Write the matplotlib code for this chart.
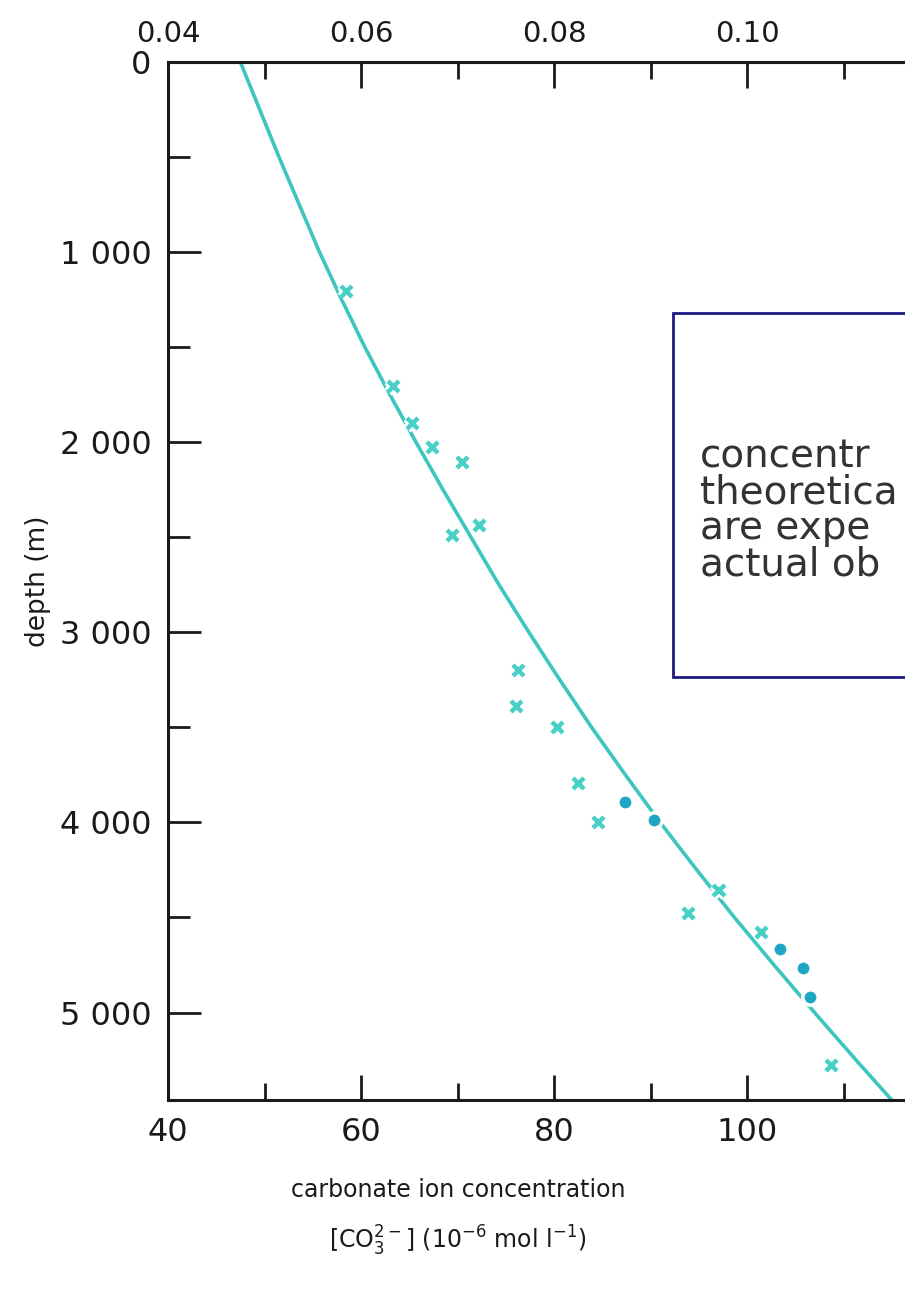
import numpy as np
import matplotlib
matplotlib.use('Agg')
import matplotlib.pyplot as plt
import matplotlib.patheffects as pe
from matplotlib.patches import Rectangle

matplotlib.rcParams.update({
    'font.family': ['DejaVu Sans'],
    'font.size': 20,
    'axes.linewidth': 2.2,
})

# theoretical curve (depth in m, [CO3 2-] in 1e-6 mol/l)
curve_depth = [0, 250, 500, 750, 1000, 1250, 1500, 1750, 2000, 2250, 2500, 2750,
               3000, 3250, 3500, 3750, 4000, 4250, 4500, 4750, 5000, 5250, 5460]
curve_conc = [47.5, 49.5, 51.5, 53.6, 55.7, 58.0, 60.4, 63.0, 65.7, 68.5, 71.4, 74.3,
              77.4, 80.6, 83.9, 87.4, 91.0, 94.8, 98.7, 102.8, 107.0, 111.3, 115.0]

# observations shown as crosses
cross_conc = [58.5, 63.4, 65.3, 67.4, 70.5, 72.3, 69.5, 76.3, 76.1, 80.4,
              82.5, 84.6, 97.1, 93.9, 101.5, 108.75]
cross_depth = [1205, 1705, 1900, 2026, 2105, 2437, 2490, 3200, 3389, 3500,
               3795, 4000, 4358, 4479, 4579, 5279]

# observations shown as dots
dot_conc = [87.4, 90.4, 103.4, 105.8, 106.5]
dot_depth = [3895, 3989, 4668, 4768, 4916]

depth_ticks = [0, 1000, 2000, 3000, 4000, 5000]
depth_labels = ['0', '1 000', '2 000', '3 000', '4 000', '5 000']
conc_ticks = [40, 60, 80, 100]
top_ticks = [0.04, 0.06, 0.08, 0.10]
top_labels = ['0.04', '0.06', '0.08', '0.10']

# visible part of the annotation (the rest is cut off by the picture edge)
box_lines = ['concentr', 'theoretica', 'are expe', 'actual ob']

line_color = '#3cc6bd'
cross_color = '#48cfc6'
dot_color = '#1fa6c3'
ink = '#1a1a1a'

fig = plt.figure(figsize=(9.05, 12.89), dpi=100)
W, H = 905, 1289
ax = fig.add_axes([168 / W, (H - 1100) / H, 772 / W, (1100 - 62) / H])

ax.plot(curve_conc, curve_depth, color=line_color, lw=2.6, zorder=2)
halo = [pe.withStroke(linewidth=7, foreground='white')]
ax.plot(cross_conc, cross_depth, ls='none', marker='x', ms=8, mew=3.2,
        color=cross_color, zorder=3, path_effects=halo)
ax.plot(dot_conc, dot_depth, ls='none', marker='o', ms=11,
        color=dot_color, mec='white', mew=2.5, zorder=4)

ax.set_xlim(40, 120)
ax.set_ylim(5460, 0)

ax.set_yticks(depth_ticks, depth_labels)
ax.set_yticks(np.arange(500, 5500, 1000), minor=True)
ax.set_xticks(conc_ticks, [str(v) for v in conc_ticks])
ax.set_xticks([50, 70, 90, 110], minor=True)

ax.tick_params(axis='y', which='major', direction='in', length=24, width=2,
               pad=12, labelsize=23, colors=ink)
ax.tick_params(axis='y', which='minor', direction='in', length=16, width=2, colors=ink)
ax.tick_params(axis='x', which='major', direction='in', length=18, width=2,
               pad=12, labelsize=23, colors=ink)
ax.tick_params(axis='x', which='minor', direction='in', length=12, width=2, colors=ink)

secax = ax.secondary_xaxis('top', functions=(lambda v: v / 1000, lambda v: v * 1000))
secax.set_xticks(top_ticks, top_labels)
secax.set_xticks([0.05, 0.07, 0.09, 0.11], minor=True)
secax.tick_params(axis='x', which='major', direction='in', length=19, width=2,
                  pad=10, labelsize=21, colors=ink)
secax.tick_params(axis='x', which='minor', direction='in', length=12, width=2, colors=ink)
secax.spines['top'].set_linewidth(2.2)
secax.spines['top'].set_color(ink)

for s in ['left', 'bottom', 'top']:
    ax.spines[s].set_color(ink)
ax.spines['right'].set_visible(False)

ax.set_ylabel('depth (m)', fontsize=19, color=ink, labelpad=6)
ax.set_xlabel('carbonate ion concentration\n'
              r'[CO$_3^{2-}$] (10$^{-6}$ mol l$^{-1}$)',
              fontsize=17, color=ink, linespacing=1.9)
ax.xaxis.set_label_coords((458 - 168) / 772, -0.075)
ax.xaxis.label.set_va('top')

# annotation box, cut off by the right edge of the picture
fig.patches.append(Rectangle((673 / W, 1 - 677 / H), 0.5, (677 - 313) / H,
                             transform=fig.transFigure, facecolor='white',
                             edgecolor='#1b1b7d', lw=2, zorder=5))
for i, txt in enumerate(box_lines):
    fig.text(700 / W, 1 - (456 + 36 * i) / H, txt, fontsize=28, color='#333333',
             va='center', ha='left', zorder=6)

fig.savefig('out.png', dpi=100)
